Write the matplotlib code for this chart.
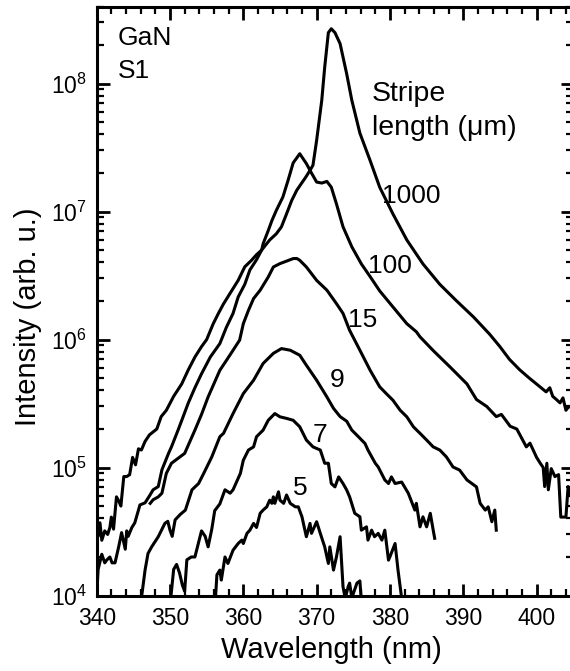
import numpy as np
import matplotlib
matplotlib.use("Agg")
import matplotlib.pyplot as plt
from matplotlib.ticker import MultipleLocator, LogLocator, NullFormatter

plt.rcParams['font.family'] = ['Liberation Sans', 'DejaVu Sans']
plt.rcParams['mathtext.fontset'] = 'custom'
plt.rcParams['mathtext.rm'] = 'Liberation Sans'
plt.rcParams['mathtext.it'] = 'Liberation Sans:italic'
plt.rcParams['mathtext.bf'] = 'Liberation Sans:bold'

# spectra: wavelength (nm), intensity (arb. u.)
wl_1000 = [340.0, 340.2, 340.45, 340.7, 341.1, 341.5, 341.8, 342.0, 342.3, 342.7, 343.0, 343.3,
           343.7, 344.1, 344.5, 344.9, 345.3, 345.7, 346.1, 346.6, 347.2, 348.2, 348.8, 349.5,
           350.5, 351.6, 352.5, 353.4, 354.3, 355.0, 355.9, 356.6, 357.3, 358.2, 359.3, 360.2,
           361.1, 361.8, 362.5, 363.6, 364.5, 365.2, 365.9, 366.6, 367.3, 367.9, 368.5, 369.1,
           369.5, 370.0, 370.7, 371.1, 371.6, 372.0, 372.5, 373.2, 374.1, 374.8, 375.9, 377.3,
           378.6, 380.4, 382.3, 384.5, 386.8, 389.1, 391.4, 393.6, 395.0, 396.3, 397.7, 399.0,
           400.4, 401.3, 401.8, 402.2, 402.7, 403.2, 403.6, 404.0, 404.4, 405.0]
int_1000 = [3.2e4, 2.9e4, 3.7e4, 2.7e4, 3.2e4, 3.0e4, 3.4e4, 4.1e4, 3.3e4, 5.9e4, 5.5e4, 5.0e4,
            8.5e4, 8.5e4, 8.8e4, 1.2e5, 1.05e5, 1.4e5, 1.37e5, 1.6e5, 1.8e5, 2.0e5, 2.5e5, 2.8e5,
            3.6e5, 4.5e5, 5.8e5, 7.3e5, 8.8e5, 1.0e6, 1.33e6, 1.6e6, 1.9e6, 2.3e6, 2.9e6, 3.7e6,
            4.15e6, 4.6e6, 5.0e6, 6.0e6, 6.7e6, 7.6e6, 9.6e6, 1.22e7, 1.47e7, 1.65e7, 1.85e7, 2.1e7,
            2.3e7, 3.6e7, 7.4e7, 1.34e8, 2.5e8, 2.68e8, 2.5e8, 2.05e8, 1.19e8, 7.4e7, 4.1e7, 2.5e7,
            1.55e7, 9.6e6, 6.0e6, 3.9e6, 2.7e6, 2.0e6, 1.5e6, 1.1e6, 8.8e5, 7.0e5, 5.8e5, 5.0e5,
            4.3e5, 3.9e5, 4.2e5, 3.6e5, 3.4e5, 3.2e5, 3.5e5, 2.8e5, 3.0e5, 2.9e5]

wl_100 = [340.0, 340.2, 340.7, 341.1, 341.4, 341.8, 342.1, 342.5, 343.0, 343.4, 343.9, 344.1,
          344.3, 344.8, 345.2, 345.9, 346.6, 347.2, 347.7, 348.4, 348.9, 349.8, 350.2, 351.1,
          351.8, 352.5, 353.4, 354.3, 355.5, 356.8, 357.7, 358.6, 359.3, 360.2, 360.9, 361.8,
          362.5, 362.7, 363.4, 363.9, 364.5, 365.4, 366.1, 366.8, 367.7, 368.6, 369.3, 370.0,
          370.7, 371.4, 372.0, 372.7, 373.6, 374.8, 376.1, 377.3, 378.6, 380.4, 382.3, 383.6,
          384.1, 385.9, 388.2, 390.5, 391.8, 393.2, 394.5, 395.2, 396.4, 397.3, 398.6, 399.1,
          400.0, 400.5, 400.9, 401.1, 401.4, 401.6, 402.0, 402.5, 403.0, 403.3, 403.7, 404.0,
          404.3, 404.7]
int_100 = [1.0e4, 1.6e4, 2.1e4, 1.8e4, 1.9e4, 2.0e4, 1.8e4, 1.8e4, 2.4e4, 3.1e4, 2.3e4, 3.2e4,
           2.9e4, 3.4e4, 3.7e4, 5.1e4, 5.3e4, 6.0e4, 6.7e4, 7.1e4, 9.6e4, 1.29e5, 1.45e5, 1.96e5,
           2.5e5, 3.2e5, 4.2e5, 5.4e5, 7.3e5, 9.3e5, 1.25e6, 1.6e6, 2.15e6, 2.7e6, 3.5e6, 4.2e6,
           5.0e6, 5.6e6, 7.1e6, 8.5e6, 1.02e7, 1.3e7, 1.75e7, 2.4e7, 2.83e7, 2.37e7, 2.0e7, 1.7e7,
           1.67e7, 1.72e7, 1.55e7, 1.15e7, 7.6e6, 5.3e6, 3.9e6, 3.1e6, 2.4e6, 1.8e6, 1.33e6, 1.15e6,
           1.05e6, 8.2e5, 6.1e5, 4.5e5, 3.4e5, 3.0e5, 2.5e5, 2.6e5, 2.1e5, 2.0e5, 1.45e5, 1.55e5,
           1.2e5, 1.08e5, 1.0e5, 7.1e4, 1.08e5, 6.7e4, 9.8e4, 8.5e4, 8.8e4, 4.1e4, 4.1e4, 4.1e4,
           7.1e4, 6.0e4]

wl_15 = [347.3, 347.7, 348.4, 348.9, 349.5, 350.2, 351.1, 352.0, 353.4, 354.3, 355.2, 356.8,
         358.2, 359.5, 360.0, 360.7, 361.4, 362.3, 363.4, 364.1, 365.0, 365.9, 366.8, 367.3,
         367.7, 368.6, 370.0, 371.4, 372.7, 373.6, 374.5, 375.9, 377.3, 378.6, 379.5, 380.4,
         381.4, 382.3, 383.2, 384.1, 385.0, 385.9, 386.8, 387.7, 388.6, 389.5, 390.5, 391.8,
         392.3, 393.0, 393.4, 393.9, 394.3, 394.5]
int_15 = [5.25e4, 5.6e4, 5.9e4, 6.3e4, 9.0e4, 1.08e5, 1.18e5, 1.29e5, 1.96e5, 2.6e5, 3.56e5, 5.75e5,
          7.6e5, 9.9e5, 1.33e6, 1.69e6, 2.09e6, 2.43e6, 3.08e6, 3.69e6, 3.92e6, 4.1e6, 4.29e6, 4.3e6,
          4.16e6, 3.69e6, 2.9e6, 2.43e6, 1.91e6, 1.6e6, 1.18e6, 8.25e5, 5.75e5, 4.27e5, 3.78e5, 3.36e5,
          2.8e5, 2.49e5, 2.08e5, 1.85e5, 1.64e5, 1.45e5, 1.37e5, 1.21e5, 1.01e5, 9.55e4, 8.0e4, 7.06e4,
          5.25e4, 4.65e4, 4.93e4, 3.77e4, 4.65e4, 3.24e4]

wl_9 = [346.1, 346.6, 347.0, 347.5, 348.4, 349.3, 349.7, 350.0, 350.3, 350.7, 351.4, 352.1,
        353.0, 353.9, 354.6, 355.7, 356.8, 357.3, 358.6, 360.0, 361.4, 362.7, 364.1, 365.2,
        366.4, 367.7, 368.6, 370.0, 371.4, 372.3, 373.2, 374.1, 374.8, 375.7, 376.6, 377.0,
        378.0, 378.4, 379.3, 379.8, 380.2, 380.7, 381.6, 382.5, 383.4, 383.6, 384.1, 384.5,
        385.0, 385.5, 385.9, 386.1]
int_9 = [9.5e3, 1.58e4, 2.13e4, 2.4e4, 2.88e4, 3.66e4, 3.8e4, 3.24e4, 2.9e4, 3.9e4, 4.3e4, 4.65e4,
         6.7e4, 7.5e4, 9.0e4, 1.21e5, 1.74e5, 1.85e5, 2.64e5, 3.78e5, 4.81e5, 6.5e5, 7.8e5, 8.5e5,
         8.25e5, 7.54e5, 6.3e5, 4.81e5, 3.56e5, 2.9e5, 2.5e5, 2.3e5, 1.96e5, 1.74e5, 1.54e5, 1.37e5,
         1.08e5, 1.01e5, 8.0e4, 7.5e4, 8.45e4, 7.5e4, 7.7e4, 6.3e4, 4.65e4, 5.25e4, 3.44e4, 4.12e4,
         3.44e4, 4.39e4, 3.24e4, 2.8e4]

wl_7 = [350.1, 350.5, 350.9, 351.3, 351.7, 352.0, 352.3, 352.9, 353.4, 353.9, 354.3, 354.8,
        355.2, 355.7, 356.1, 356.8, 357.5, 358.2, 358.6, 359.6, 360.0, 360.7, 361.4, 361.8,
        362.7, 363.4, 364.3, 365.0, 365.9, 366.8, 367.7, 368.6, 369.5, 370.5, 371.1, 371.6,
        372.0, 372.5, 373.0, 373.6, 374.1, 374.5, 375.2, 375.9, 376.1, 376.8, 377.0, 377.5,
        377.9, 378.4, 378.9, 379.3, 379.8, 380.0, 380.7, 381.1, 381.6]
int_7 = [9.5e3, 1.6e4, 1.75e4, 1.5e4, 1.2e4, 1.08e4, 1.9e4, 2.0e4, 2.0e4, 2.6e4, 3.2e4, 2.9e4,
         2.4e4, 3.3e4, 4.6e4, 5.2e4, 6.7e4, 6.3e4, 6.7e4, 9.0e4, 1.14e5, 1.37e5, 1.45e5, 1.74e5,
         1.96e5, 2.34e5, 2.64e5, 2.49e5, 2.42e5, 2.34e5, 2.08e5, 1.64e5, 1.45e5, 1.37e5, 1.08e5, 1.08e5,
         7.5e4, 7.06e4, 8.45e4, 7.5e4, 6.67e4, 5.9e4, 4.39e4, 4.12e4, 3.24e4, 3.44e4, 2.71e4, 3.24e4,
         2.88e4, 3.06e4, 2.71e4, 3.24e4, 1.89e4, 2.01e4, 2.55e4, 1.58e4, 9.5e3]

wl_5 = [356.2, 356.4, 356.8, 357.0, 357.5, 357.9, 358.6, 359.3, 359.8, 360.0, 360.5, 360.9,
        361.4, 361.8, 362.3, 362.7, 363.2, 363.6, 363.9, 364.1, 364.3, 364.8, 365.0, 365.5,
        365.9, 366.4, 367.1, 367.5, 368.0, 368.4, 368.6, 369.1, 369.3, 370.0, 370.5, 371.1,
        371.6, 371.8, 372.3, 372.7, 373.2, 373.6, 373.9, 374.3, 374.5, 374.8, 375.5, 375.9, 376.1]
int_5 = [9.5e3, 1.45e4, 1.58e4, 1.32e4, 2.0e4, 1.78e4, 2.26e4, 2.55e4, 2.71e4, 2.55e4, 3.06e4, 3.24e4,
         3.66e4, 3.4e4, 4.39e4, 4.65e4, 4.93e4, 5.56e4, 5.25e4, 5.9e4, 5.25e4, 6.46e4, 5.56e4, 5.25e4,
         6.1e4, 5.25e4, 4.93e4, 4.93e4, 4.12e4, 3.24e4, 2.88e4, 3.66e4, 3.06e4, 3.77e4, 3.06e4, 2.4e4,
         1.78e4, 2.4e4, 1.58e4, 2.0e4, 2.88e4, 1.17e4, 9.5e3, 1.17e4, 1.25e4, 9.6e3, 1.25e4, 1.3e4, 9.0e3]

spectra = [(wl_1000, int_1000), (wl_100, int_100), (wl_15, int_15),
           (wl_9, int_9), (wl_7, int_7), (wl_5, int_5)]

# stripe length labels: text, axes-fraction x, y (baseline)
stripe_labels = [("1000", 0.598, 0.666), ("100", 0.569, 0.548), ("15", 0.527, 0.456),
                 ("9", 0.4895, 0.354), ("7", 0.454, 0.261), ("5", 0.412, 0.171)]

fig = plt.figure(figsize=(5.70, 6.71), dpi=100)
ax = fig.add_axes([0.1696, 0.1125, 0.8361, 0.8778])

for wl, inten in spectra:
    ax.plot(wl, inten, color='black', lw=2.2, solid_joinstyle='round')

ax.set_yscale('log')
ax.set_xlim(340, 405)
ax.set_ylim(1e4, 4e8)

ax.xaxis.set_major_locator(MultipleLocator(10))
ax.xaxis.set_minor_locator(MultipleLocator(2))
ax.yaxis.set_major_locator(LogLocator(base=10, numticks=20))
ax.yaxis.set_minor_locator(LogLocator(base=10, subs=np.arange(2, 10), numticks=20))
ax.yaxis.set_minor_formatter(NullFormatter())

ax.tick_params(which='both', direction='in', top=True, right=True)
ax.tick_params(which='major', length=9, width=2, labelsize=16.5)
ax.tick_params(axis='x', which='major', pad=8)
ax.tick_params(axis='y', which='major', pad=7)
ax.tick_params(which='minor', length=5, width=1.6)
for s in ax.spines.values():
    s.set_linewidth(2.2)

ax.set_xlabel('Wavelength (nm)', fontsize=21)
ax.set_ylabel('Intensity (arb. u.)', fontsize=21)
ax.xaxis.set_label_coords(0.4927, -0.0688)
ax.yaxis.set_label_coords(-0.115, 0.473)

ax.text(0.0447, 0.9347, 'GaN', transform=ax.transAxes, fontsize=19, va='baseline')
ax.text(0.0447, 0.8786, 'S1', transform=ax.transAxes, fontsize=19, va='baseline')
ax.text(0.577, 0.8404, 'Stripe', transform=ax.transAxes, fontsize=20.5, va='baseline')
ax.text(0.577, 0.782, 'length (\u03bcm)', transform=ax.transAxes, fontsize=20.5, va='baseline')
for txt, fx, fy in stripe_labels:
    ax.text(fx, fy, txt, transform=ax.transAxes, fontsize=19, va='baseline')

fig.savefig('out.png', dpi=100)
